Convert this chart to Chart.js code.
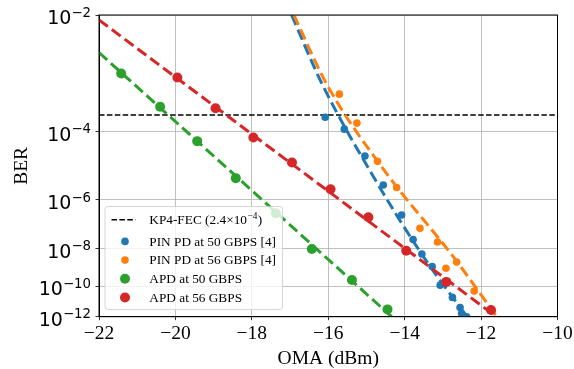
<!DOCTYPE html>
<html>
<head>
<meta charset="utf-8">
<script src="https://cdn.jsdelivr.net/npm/chart.js@4.4.1/dist/chart.umd.min.js"></script>
<style>
html, body { margin: 0; padding: 0; background: #fff; }
#wrap { width: 574px; height: 369px; }
</style>
</head>
<body>
<div id="wrap"><canvas id="chart" width="574" height="369"></canvas></div>
<script>
// OMA in dBm, BER kept as log10(BER)
var X_TICKS = [-22, -20, -18, -16, -14, -12, -10];
var Y_TICK_EXPONENTS = [-2, -4, -6, -8, -10, -12];

var FEC_LOG_BER = Math.log10(2.4e-4);

var PIN50_OMA = [-16.08, -15.58, -15.04, -14.56, -14.08, -13.78, -13.55, -13.28, -13.07, -12.75, -12.55, -12.51, -12.38];
var PIN50_LOG_BER = [-3.67, -3.94, -4.62, -5.49, -6.56, -7.59, -8.27, -8.91, -9.95, -10.70, -11.36, -11.77, -12.0];

var PIN56_OMA = [-15.71, -15.25, -14.71, -14.21, -13.60, -13.14, -12.64, -12.92, -12.18, -11.71];
var PIN56_LOG_BER = [-3.20, -3.80, -4.77, -5.57, -7.10, -7.70, -8.67, -9.00, -10.30, -11.60];

var APD50_OMA = [-21.42, -20.40, -19.43, -18.42, -17.37, -16.43, -15.38, -14.45];
var APD50_LOG_BER = [-2.83, -3.45, -4.23, -5.27, -6.49, -8.03, -9.65, -11.49];

var APD56_OMA = [-19.95, -18.95, -17.96, -16.95, -15.94, -14.95, -13.96, -12.91, -11.74];
var APD56_LOG_BER = [-2.90, -3.48, -4.14, -4.80, -5.63, -6.65, -8.11, -9.76, -11.53];

// fitted curves
var PIN50_FIT_OMA = [-16.96, -16.17, -14.82, -13.51, -12.37];
var PIN50_FIT_LOG_BER = [-2.0, -3.0, -5.22, -8.40, -12.0];
var PIN56_FIT_OMA = [-16.90, -16.03, -14.51, -12.73, -11.59];
var PIN56_FIT_LOG_BER = [-2.0, -3.03, -5.07, -8.40, -12.0];
var APD50_FIT_OMA = [-22, -14.34];
var APD50_FIT_LOG_BER = [-2.50, -12.0];
var APD56_FIT_OMA = [-22, -11.60];
var APD56_FIT_LOG_BER = [-2.06, -12.0];

var BLUE = "#1f77b4";
var ORANGE = "#ff7f0e";
var GREEN = "#2ca02c";
var RED = "#d62728";

var SERIF = '"Liberation Serif", "Times New Roman", serif';
var SANS = '"DejaVu Sans", sans-serif';

// BER axis is linear in log10(-log10(BER))
function toV(logBer) {
    return Math.log10(-logBer);
}

function points(xs, ls) {
    return xs.map(function(x, i) {
        return { x: x, y: toV(ls[i]) };
    });
}

function fitLine(xs, ls, color, order) {
    return {
        data: points(xs, ls),
        showLine: true,
        borderColor: color,
        borderWidth: 3,
        borderDash: [11, 5],
        pointRadius: 0,
        cubicInterpolationMode: "monotone",
        order: order
    };
}

function markers(xs, ls, color, r, order) {
    return {
        data: points(xs, ls),
        showLine: false,
        backgroundColor: color,
        borderColor: color,
        borderWidth: 0,
        pointRadius: r,
        order: order
    };
}

var LEGEND = [
    { label: "KP4-FEC (2.4\u00d710", sup: "\u22124", tail: ")", line: true },
    { label: "PIN PD at 50 GBPS [4]", color: BLUE, r: 3.8 },
    { label: "PIN PD at 56 GBPS [4]", color: ORANGE, r: 3.8 },
    { label: "APD at 50 GBPS", color: GREEN, r: 5 },
    { label: "APD at 56 GBPS", color: RED, r: 5 }
];

function drawMath(ctx, base, sup, xRight, baseline, size, family) {
    ctx.font = size + "px " + family;
    var wb = ctx.measureText(base).width;
    ctx.font = (size * 0.7) + "px " + family;
    var ws = ctx.measureText(sup).width;
    ctx.textAlign = "left";
    ctx.font = size + "px " + family;
    ctx.fillText(base, xRight - ws - wb, baseline);
    ctx.font = (size * 0.7) + "px " + family;
    ctx.fillText(sup, xRight - ws, baseline - size * 0.4);
}

var decorPlugin = {
    id: "decor",
    afterDraw: function(chart) {
        var ctx = chart.ctx;
        var a = chart.chartArea;
        var xs = chart.scales.x;
        var ys = chart.scales.y;
        ctx.save();

        ctx.strokeStyle = "#000";
        ctx.lineWidth = 1;
        ctx.strokeRect(a.left, a.top, a.right - a.left, a.bottom - a.top);

        ctx.fillStyle = "#000";
        ctx.textBaseline = "alphabetic";

        // x tick labels
        ctx.font = "19.5px " + SERIF;
        ctx.textAlign = "center";
        X_TICKS.forEach(function(t) {
            var s = t < 0 ? "\u2212" + Math.abs(t) : String(t);
            ctx.fillText(s, xs.getPixelForValue(t), 338.5);
        });

        // y tick labels
        Y_TICK_EXPONENTS.forEach(function(e) {
            var py = ys.getPixelForValue(toV(e));
            drawMath(ctx, "10", "\u2212" + Math.abs(e), 91, py + 9.3, 19, SANS);
        });

        // axis titles
        ctx.font = "19.5px " + SERIF;
        ctx.textAlign = "center";
        ctx.fillText("OMA (dBm)", (a.left + a.right) / 2, 364);
        ctx.save();
        ctx.translate(26.7, (a.top + a.bottom) / 2);
        ctx.rotate(-Math.PI / 2);
        ctx.fillText("BER", 0, 0);
        ctx.restore();

        // legend
        var bx = 105, by = 206.5, bw = 177.5, bh = 103;
        ctx.beginPath();
        ctx.roundRect(bx, by, bw, bh, 3);
        ctx.fillStyle = "rgba(255,255,255,0.8)";
        ctx.fill();
        ctx.strokeStyle = "rgba(204,204,204,0.8)";
        ctx.lineWidth = 1;
        ctx.stroke();

        var baselines = [224, 245.7, 264.4, 283.1, 301.8];
        LEGEND.forEach(function(item, i) {
            var bl = baselines[i];
            var cy = bl - 4.3;
            if (item.line) {
                ctx.strokeStyle = "#000";
                ctx.lineWidth = 1.5;
                ctx.setLineDash([5.5, 2.4]);
                ctx.beginPath();
                ctx.moveTo(111.5, cy);
                ctx.lineTo(135.5, cy);
                ctx.stroke();
                ctx.setLineDash([]);
            } else {
                ctx.fillStyle = item.color;
                ctx.beginPath();
                ctx.arc(125, cy, item.r, 0, Math.PI * 2);
                ctx.fill();
            }
            ctx.fillStyle = "#000";
            ctx.textAlign = "left";
            ctx.font = "13.3px " + SERIF;
            ctx.fillText(item.label, 149.3, bl);
            if (item.sup) {
                var w = ctx.measureText(item.label).width;
                ctx.font = "9.3px " + SERIF;
                ctx.fillText(item.sup, 149.3 + w + 0.5, bl - 5.5);
                var ws = ctx.measureText(item.sup).width;
                ctx.font = "13.3px " + SERIF;
                ctx.fillText(item.tail, 149.3 + w + ws + 1, bl);
            }
        });

        ctx.restore();
    }
};

var datasets = [
    {
        data: [{ x: -22, y: toV(FEC_LOG_BER) }, { x: -10, y: toV(FEC_LOG_BER) }],
        showLine: true,
        borderColor: "#000",
        borderWidth: 1.5,
        borderDash: [5.5, 2.4],
        pointRadius: 0,
        order: 20
    },
    fitLine(PIN50_FIT_OMA, PIN50_FIT_LOG_BER, BLUE, 19),
    markers(PIN50_OMA, PIN50_LOG_BER, BLUE, 3.8, 18),
    fitLine(PIN56_FIT_OMA, PIN56_FIT_LOG_BER, ORANGE, 17),
    markers(PIN56_OMA, PIN56_LOG_BER, ORANGE, 3.8, 16),
    fitLine(APD50_FIT_OMA, APD50_FIT_LOG_BER, GREEN, 15),
    markers(APD50_OMA, APD50_LOG_BER, GREEN, 5, 14),
    fitLine(APD56_FIT_OMA, APD56_FIT_LOG_BER, RED, 13),
    markers(APD56_OMA, APD56_LOG_BER, RED, 5, 12)
];

new Chart(document.getElementById("chart"), {
    type: "scatter",
    data: { datasets: datasets },
    options: {
        responsive: false,
        animation: false,
        events: [],
        layout: { padding: { top: 15, right: 16.5, left: 0, bottom: 0 } },
        plugins: { legend: { display: false }, tooltip: { enabled: false } },
        scales: {
            x: {
                type: "linear",
                min: -22,
                max: -10,
                afterBuildTicks: function(scale) {
                    scale.ticks = X_TICKS.map(function(v) { return { value: v }; });
                },
                afterFit: function(scale) { scale.height = 52.3; },
                ticks: { display: false },
                grid: { color: "#b0b0b0", lineWidth: 0.8, tickColor: "#000", tickLength: 3.5, tickWidth: 0.8 },
                border: { color: "#000", width: 1 }
            },
            y: {
                type: "linear",
                reverse: true,
                min: toV(-2),
                max: toV(-12),
                afterBuildTicks: function(scale) {
                    scale.ticks = Y_TICK_EXPONENTS.map(function(e) { return { value: toV(e) }; });
                },
                afterFit: function(scale) { scale.width = 99; },
                ticks: { display: false },
                grid: { color: "#b0b0b0", lineWidth: 0.8, tickColor: "#000", tickLength: 3.5, tickWidth: 0.8 },
                border: { color: "#000", width: 1 }
            }
        }
    },
    plugins: [decorPlugin]
});
</script>
</body>
</html>
